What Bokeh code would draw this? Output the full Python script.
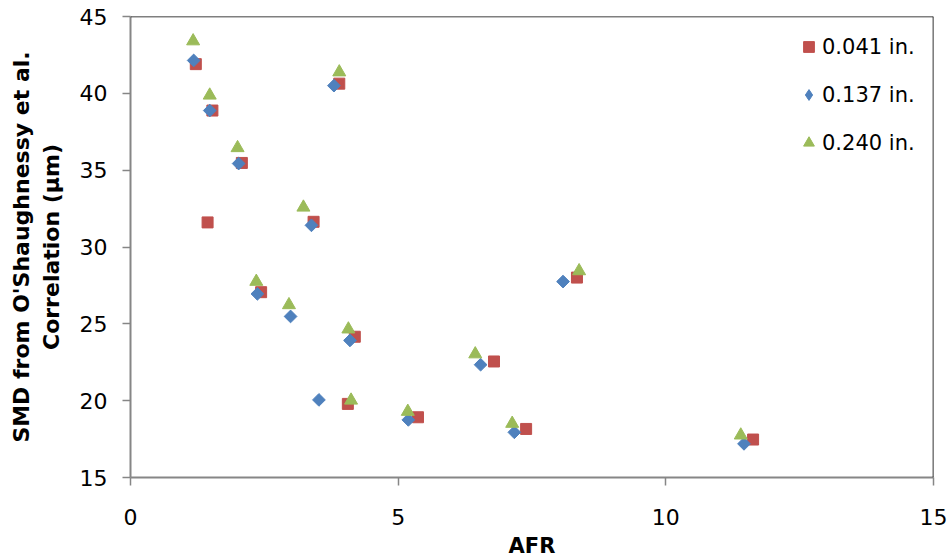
import numpy as np
from bokeh.plotting import figure
from bokeh.models import FixedTicker, Span, Legend, LegendItem, Range1d
from bokeh.embed import file_html
from bokeh.resources import INLINE

# Sauter mean diameter vs. air-to-fuel ratio, one series per orifice diameter
series_labels = ["0.041 in.", "0.137 in.", "0.240 in."]

afr_041 = [1.22, 1.53, 2.08, 1.44, 3.42, 3.90, 2.44, 4.19, 4.06, 5.37, 6.79, 7.39, 8.34, 11.63]
smd_041 = [41.90, 38.88, 35.47, 31.60, 31.64, 40.63, 27.06, 24.16, 19.79, 18.92, 22.55, 18.16, 28.01, 17.47]

afr_137 = [1.18, 1.48, 2.02, 3.38, 3.80, 2.37, 2.99, 4.10, 3.52, 5.19, 6.54, 7.17, 8.08, 11.46]
smd_137 = [42.14, 38.88, 35.43, 31.41, 40.50, 26.95, 25.48, 23.92, 20.05, 18.75, 22.34, 17.94, 27.75, 17.19]

afr_240 = [1.17, 1.48, 2.00, 3.23, 3.90, 2.35, 2.96, 4.07, 4.12, 5.18, 6.44, 7.13, 8.38, 11.40]
smd_240 = [43.40, 39.87, 36.45, 32.58, 41.38, 27.75, 26.23, 24.65, 20.02, 19.29, 23.03, 18.51, 28.44, 17.75]

x_ticks = [0, 5, 10, 15]
y_ticks = [15, 20, 25, 30, 35, 40, 45]

RED = "#C0504D"
BLUE = "#4F81BD"
GREEN = "#9BBB59"
AXIS_GREY = "#868686"
FONT = "DejaVu Sans"

p = figure(
    width=951, height=560,
    x_range=Range1d(0, 15), y_range=Range1d(15, 45),
    output_backend="svg", toolbar_location=None,
    min_border_left=130, min_border_right=18,
    min_border_top=16, min_border_bottom=82,
)
p.background_fill_color = "white"
p.border_fill_color = "white"
p.outline_line_color = None
p.xgrid.grid_line_color = None
p.ygrid.grid_line_color = None

# top and right edges of the plot area
p.add_layout(Span(location=45, dimension="width", line_color="black", line_width=1.6))
p.add_layout(Span(location=15, dimension="height", line_color="black", line_width=1.6))

r_041 = p.scatter(afr_041, smd_041, marker="square", size=11,
                  fill_color=RED, line_color=RED)
# diamonds drawn as squares turned by 45 degrees
r_137 = p.scatter(afr_137, smd_137, marker="square", size=9, angle=np.pi / 4,
                  fill_color=BLUE, line_color=BLUE)
r_240 = p.scatter(afr_240, smd_240, marker="triangle", size=13,
                  fill_color=GREEN, line_color=GREEN)
# legend swatch for the diamond series (legend glyphs are never rotated);
# a single NaN point keeps it off the plot area
r_137_key = p.scatter(x=[np.nan], y=[np.nan], marker="diamond", size=13,
                      fill_color=BLUE, line_color=BLUE)

for ax in (p.xaxis[0], p.yaxis[0]):
    ax.axis_line_color = AXIS_GREY
    ax.axis_line_width = 2
    ax.major_tick_line_color = AXIS_GREY
    ax.major_tick_line_width = 1.5
    ax.major_tick_out = 8
    ax.major_tick_in = 0
    ax.minor_tick_out = 0
    ax.minor_tick_in = 0
    ax.major_label_text_font = FONT
    ax.major_label_text_font_size = "22px"
    ax.major_label_text_color = "black"
    ax.axis_label_text_font = FONT
    ax.axis_label_text_font_style = "bold"
    ax.axis_label_text_color = "black"

p.xaxis.ticker = FixedTicker(ticks=x_ticks)
p.yaxis.ticker = FixedTicker(ticks=y_ticks)
p.xaxis.major_label_standoff = 23
p.yaxis.major_label_standoff = 15
p.xaxis.axis_label = "AFR"
p.xaxis.axis_label_text_font_size = "21px"
p.xaxis.axis_label_standoff = 6
p.yaxis.axis_label = "SMD from O'Shaughnessy et al.\nCorrelation (\u00b5m)"
p.yaxis.axis_label_text_font_size = "22px"
p.yaxis.axis_label_standoff = 13

legend = Legend(
    items=[
        LegendItem(label=series_labels[0], renderers=[r_041]),
        LegendItem(label=series_labels[1], renderers=[r_137_key]),
        LegendItem(label=series_labels[2], renderers=[r_240]),
    ],
    location=(665, 321),
    margin=0, padding=0,
    glyph_width=27, glyph_height=27, label_height=20,
    spacing=21, label_standoff=0,
    label_text_font=FONT, label_text_font_size="21px",
    label_text_color="black",
    border_line_color=None, background_fill_alpha=0,
)
p.add_layout(legend)

open("out.html", "w").write(file_html(p, INLINE))
